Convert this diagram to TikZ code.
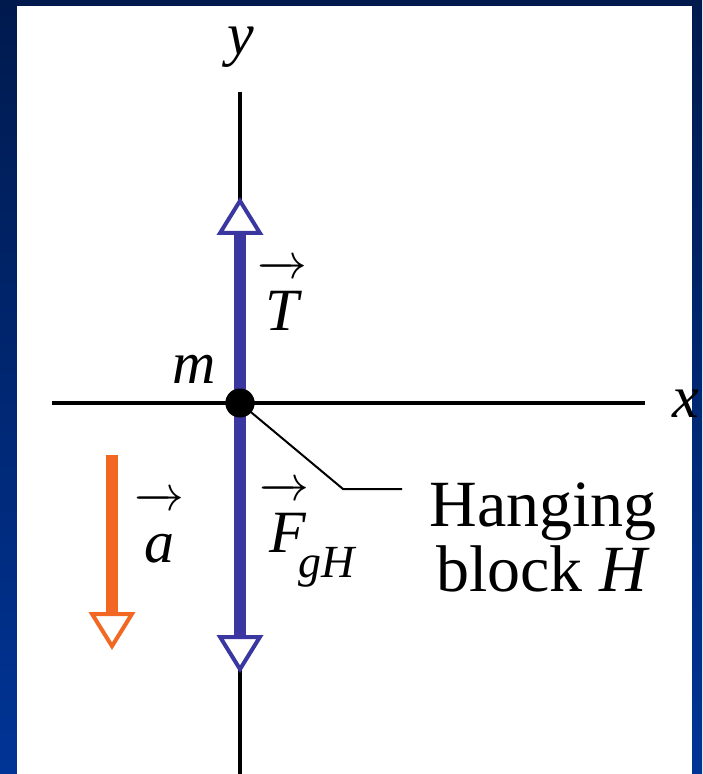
\documentclass[tikz,border=0pt]{standalone}
\usepackage{amsmath}
\usepackage{fontspec}
\setmainfont{Liberation Serif}
\usetikzlibrary{arrows.meta, positioning}

\definecolor{navytop}{RGB}{0,26,78}
\definecolor{navybot}{RGB}{0,52,150}
\definecolor{forceblue}{RGB}{58,56,160}
\definecolor{accorange}{RGB}{242,104,34}

% flecha de vector separada de la letra
\newcommand{\vecsym}[2][0.12em]{\overrightarrow{\rule{0pt}{0.86em}\kern0.12em\textit{#2}\kern#1}}

\tikzset{
  axisline/.style={line width=1.6pt, black},
  forcevec/.style={line width=6pt, forceblue,
    -{Triangle[length=19pt, width=23pt, line width=2pt 0, fill=white]}},
  accvec/.style={line width=6pt, accorange,
    -{Triangle[length=19pt, width=23pt, line width=2pt 0, fill=white]}},
  lbl/.style={font=\fontsize{30}{32}\selectfont, inner sep=0pt},
  note/.style={font=\fontsize{33}{32.5}\selectfont, align=center, inner sep=0pt}
}

\begin{document}
\begin{tikzpicture}[x=0.5pt, y=-0.5pt]
\useasboundingbox (0,0) rectangle (702,774);
% fondo y panel blanco
\shade[top color=navytop, bottom color=navybot] (0,0) rectangle (702,774);
\fill[white] (17,6) rectangle (692,774);

% ejes
\coordinate (ytop) at (240,92);
\coordinate (ybot) at (240,774);
\coordinate (xleft) at (52,403);
\coordinate (xright) at (645,403);
\draw[axisline] (ytop) -- (ybot);
\draw[axisline] (xleft) -- (xright);
\node[lbl] (ylab) at (241,47) {\textit{y}};
\node[lbl, anchor=west] (xlab) at (672,404) {\textit{x}};

% particula
\node[circle, fill=black, inner sep=0pt, minimum size=14.5pt] (m) at (240,403) {};
\node[lbl, anchor=base west] (mlab) at (172,383) {\textit{m}};

% linea de referencia
\coordinate (elbow) at (343,489);
\coordinate (leadend) at (402,489);
\draw[line width=1pt] (m.center) -- (elbow) -- (leadend);
\node[note] (hang) at (543,537) {Hanging\\block \textit{H}};

% fuerzas
\coordinate (ttip) at (240,197);
\coordinate (ftip) at (240,673);
\draw[forcevec] (m.center) -- (ttip);
\draw[forcevec] (m.center) -- (ftip);
\node[circle, fill=black, inner sep=0pt, minimum size=14.5pt] at (m) {};
\node[lbl, anchor=base west] (tlab) at (257,330) {$\vecsym{T}$};
\node[lbl, anchor=base west] (flab) at (259,552)
  {$\vecsym[0em]{F}$\kern-0.18em\raisebox{-0.42em}{\fontsize{23}{23}\selectfont\textit{gH}}};

% aceleracion
\coordinate (atop) at (112,455);
\coordinate (atip) at (112,650);
\draw[accvec] (atop) -- (atip);
\node[lbl, anchor=base west] (alab) at (134,562) {$\vecsym{a}$};
\end{tikzpicture}
\end{document}
